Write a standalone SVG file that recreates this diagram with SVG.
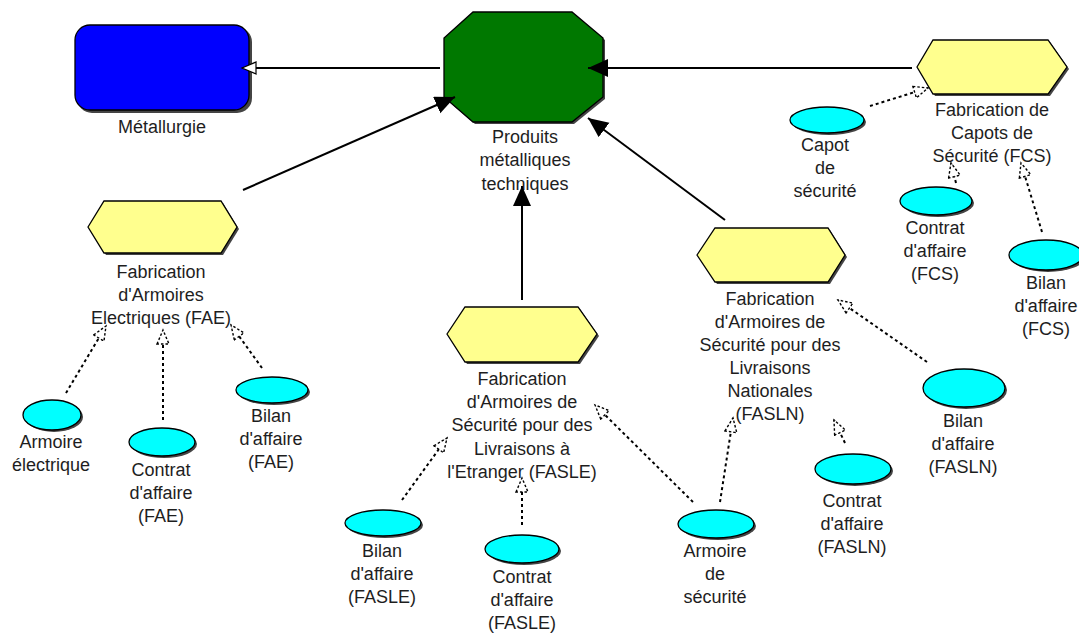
<svg xmlns="http://www.w3.org/2000/svg" width="1079" height="635" viewBox="0 0 1079 635">
<defs>
<style>
text{font-family:"Liberation Sans",Arial,sans-serif;font-size:18px;fill:#1e1e1e;text-anchor:middle}
.sh{fill:#444;stroke:none}
.hex{fill:#FFFF8E;stroke:#000;stroke-width:1.3}
.ell{fill:#00FFFF;stroke:#000;stroke-width:1.3}
.solid{stroke:#000;stroke-width:2;fill:none}
.dot{stroke:#000;stroke-width:2;fill:none;stroke-dasharray:3 3}
</style>
<marker id="aFill" markerUnits="userSpaceOnUse" markerWidth="22" markerHeight="20" refX="20" refY="9" orient="auto">
<path d="M0,0 L20,9 L0,18 Z" fill="#000"/>
</marker>
<marker id="aHollow" markerUnits="userSpaceOnUse" markerWidth="18" markerHeight="16" refX="15" refY="7" orient="auto">
<path d="M1,1 L15,7 L1,13 Z" fill="#fff" stroke="#000" stroke-width="1.2"/>
</marker>
<marker id="aDash" markerUnits="userSpaceOnUse" markerWidth="18" markerHeight="18" refX="15" refY="7" orient="auto">
<path d="M1,1 L15,7 L1,13 Z" fill="#fff" stroke="#000" stroke-width="1.4" stroke-dasharray="2.5 2"/>
</marker>
</defs>
<rect width="1079" height="635" fill="#fff"/>

<g id="metallurgie">
<rect class="sh" x="77" y="27" width="175" height="86" rx="15"/>
<rect x="75" y="25" width="174" height="85" rx="15" fill="#0000FF" stroke="#000" stroke-width="1.3"/>
<text x="162" y="133">Métallurgie</text>
</g>

<g id="produits">
<polygon class="sh" points="475,14 574,14 605,40 605,99 574,124 475,124 446,99 446,40"/>
<polygon points="473,12 572,12 603,38 603,97 572,122 473,122 444,97 444,38" fill="#007800" stroke="#000" stroke-width="1.3"/>
<text x="525" y="143">Produits</text>
<text x="525" y="166">métalliques</text>
<text x="525" y="190">techniques</text>
</g>

<g id="fcs">
<polygon class="sh" points="919,69 935,42 1050,42 1069,69 1050,96 935,96"/>
<polygon class="hex" points="917,67 933,40 1048,40 1067,67 1048,94 933,94"/>
<text x="992" y="116">Fabrication de</text>
<text x="992" y="139">Capots de</text>
<text x="992" y="162">Sécurité (FCS)</text>
</g>

<g id="fae">
<polygon class="sh" points="90,229 106,203 223,203 239,229 223,255 106,255"/>
<polygon class="hex" points="88,227 104,201 221,201 237,227 221,253 104,253"/>
<text x="161" y="278">Fabrication</text>
<text x="161" y="301">d'Armoires</text>
<text x="161" y="324">Electriques (FAE)</text>
</g>

<g id="fasle">
<polygon class="sh" points="449,336 467,309 580,309 599,336 580,364 467,364"/>
<polygon class="hex" points="447,334 465,307 578,307 597,334 578,362 465,362"/>
<text x="522" y="385">Fabrication</text>
<text x="522" y="408">d'Armoires de</text>
<text x="522" y="431">Sécurité pour des</text>
<text x="522" y="455">Livraisons à</text>
<text x="522" y="478">l'Etranger (FASLE)</text>
</g>

<g id="fasln">
<polygon class="sh" points="699,257 717,230 830,230 847,257 830,284 717,284"/>
<polygon class="hex" points="697,255 715,228 828,228 845,255 828,282 715,282"/>
<text x="770" y="305">Fabrication</text>
<text x="770" y="328">d'Armoires de</text>
<text x="770" y="351">Sécurité pour des</text>
<text x="770" y="374">Livraisons</text>
<text x="770" y="397">Nationales</text>
<text x="770" y="420">(FASLN)</text>
</g>

<g id="capot">
<ellipse class="sh" cx="829" cy="122" rx="37" ry="13"/>
<ellipse class="ell" cx="827" cy="120" rx="37" ry="13"/>
<text x="825" y="151">Capot</text>
<text x="825" y="174">de</text>
<text x="825" y="197">sécurité</text>
</g>

<g id="contrat-fcs">
<ellipse class="sh" cx="938" cy="203" rx="36" ry="14"/>
<ellipse class="ell" cx="936" cy="201" rx="36" ry="14"/>
<text x="935" y="234">Contrat</text>
<text x="935" y="257">d'affaire</text>
<text x="935" y="280">(FCS)</text>
</g>

<g id="bilan-fcs">
<ellipse class="sh" cx="1048" cy="257" rx="37" ry="15"/>
<ellipse class="ell" cx="1046" cy="255" rx="37" ry="15"/>
<text x="1046" y="289">Bilan</text>
<text x="1046" y="312">d'affaire</text>
<text x="1046" y="335">(FCS)</text>
</g>

<g id="armoire-elec">
<ellipse class="sh" cx="54" cy="417" rx="29" ry="15"/>
<ellipse class="ell" cx="52" cy="415" rx="29" ry="15"/>
<text x="51" y="448">Armoire</text>
<text x="51" y="471">électrique</text>
</g>

<g id="contrat-fae">
<ellipse class="sh" cx="164" cy="444" rx="33" ry="14"/>
<ellipse class="ell" cx="162" cy="442" rx="33" ry="14"/>
<text x="161" y="476">Contrat</text>
<text x="161" y="499">d'affaire</text>
<text x="161" y="522">(FAE)</text>
</g>

<g id="bilan-fae">
<ellipse class="sh" cx="274" cy="392" rx="36" ry="13"/>
<ellipse class="ell" cx="272" cy="390" rx="36" ry="13"/>
<text x="271" y="422">Bilan</text>
<text x="271" y="445">d'affaire</text>
<text x="271" y="468">(FAE)</text>
</g>

<g id="bilan-fasle">
<ellipse class="sh" cx="385" cy="525" rx="38" ry="13"/>
<ellipse class="ell" cx="383" cy="523" rx="38" ry="13"/>
<text x="382" y="557">Bilan</text>
<text x="382" y="580">d'affaire</text>
<text x="382" y="603">(FASLE)</text>
</g>

<g id="contrat-fasle">
<ellipse class="sh" cx="524" cy="551" rx="37" ry="14"/>
<ellipse class="ell" cx="522" cy="549" rx="37" ry="14"/>
<text x="522" y="583">Contrat</text>
<text x="522" y="606">d'affaire</text>
<text x="522" y="629">(FASLE)</text>
</g>

<g id="armoire-securite">
<ellipse class="sh" cx="718" cy="526" rx="38" ry="14"/>
<ellipse class="ell" cx="716" cy="524" rx="38" ry="14"/>
<text x="715" y="557">Armoire</text>
<text x="715" y="580">de</text>
<text x="715" y="603">sécurité</text>
</g>

<g id="contrat-fasln">
<ellipse class="sh" cx="855" cy="471" rx="38" ry="15"/>
<ellipse class="ell" cx="853" cy="469" rx="38" ry="15"/>
<text x="852" y="507">Contrat</text>
<text x="852" y="530">d'affaire</text>
<text x="852" y="553">(FASLN)</text>
</g>

<g id="bilan-fasln">
<ellipse class="sh" cx="966" cy="390" rx="41" ry="19"/>
<ellipse class="ell" cx="964" cy="388" rx="41" ry="19"/>
<text x="963" y="427">Bilan</text>
<text x="963" y="450">d'affaire</text>
<text x="963" y="473">(FASLN)</text>
</g>

<g id="connectors">
<line class="solid" x1="440" y1="68" x2="242" y2="68" marker-end="url(#aHollow)"/>
<line class="solid" x1="912" y1="68" x2="588" y2="68" marker-end="url(#aFill)"/>
<line class="solid" x1="243" y1="190" x2="455" y2="97" marker-end="url(#aFill)"/>
<line class="solid" x1="522" y1="300" x2="522" y2="186" marker-end="url(#aFill)"/>
<line class="solid" x1="725" y1="220" x2="588" y2="118" marker-end="url(#aFill)"/>

<line class="dot" x1="870" y1="106" x2="928" y2="88" marker-end="url(#aDash)"/>
<line class="dot" x1="956" y1="183" x2="951" y2="163" marker-end="url(#aDash)"/>
<line class="dot" x1="1042" y1="232" x2="1021" y2="163" marker-end="url(#aDash)"/>

<line class="dot" x1="66" y1="393" x2="106" y2="326" marker-end="url(#aDash)"/>
<line class="dot" x1="163" y1="420" x2="163" y2="330" marker-end="url(#aDash)"/>
<line class="dot" x1="262" y1="368" x2="231" y2="325" marker-end="url(#aDash)"/>

<line class="dot" x1="402" y1="500" x2="447" y2="438" marker-end="url(#aDash)"/>
<line class="dot" x1="522" y1="525" x2="522" y2="478" marker-end="url(#aDash)"/>
<line class="dot" x1="693" y1="502" x2="595" y2="405" marker-end="url(#aDash)"/>

<line class="dot" x1="720" y1="502" x2="733" y2="418" marker-end="url(#aDash)"/>
<line class="dot" x1="845" y1="443" x2="834" y2="420" marker-end="url(#aDash)"/>
<line class="dot" x1="927" y1="362" x2="838" y2="300" marker-end="url(#aDash)"/>
</g>
</svg>
